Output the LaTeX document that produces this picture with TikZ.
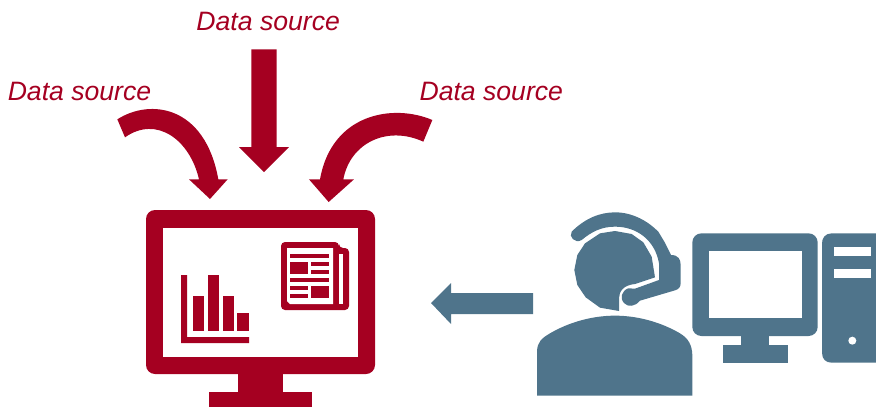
\documentclass[tikz,border=0pt]{standalone}
\usepackage{fontspec}
\setmainfont{Liberation Sans}
\definecolor{wine}{HTML}{A50021}
\definecolor{slate}{HTML}{4F748B}
\tikzset{
	sourcelabel/.style={text=wine,font=\fontsize{26.6}{30}\selectfont\itshape,inner sep=0pt},
	redshape/.style={fill=wine,draw=none,even odd rule},
	blueshape/.style={fill=slate,draw=none,even odd rule},
}

\begin{document}
\begin{tikzpicture}[x=1pt,y=-1pt]

	\useasboundingbox (0,0) rectangle (876,407);

	\node[sourcelabel] (leftsource) at (79.5,91.7) {Data source};
	\node[sourcelabel] (topsource) at (268.2,21.7) {Data source};
	\node[sourcelabel] (rightsource) at (491.3,91.7) {Data source};

	% arrows from the sources
	\begin{scope}[shift={(100,40)},scale=1/3]
		\fill[redshape] (52,238) .. controls (150,175) and (315,195) .. (355,418) -- (383,418) -- (330,477) -- (267,418) -- (297,418) .. controls (270,300) and (170,225) .. (75,292) -- cycle;
		\fill[redshape] (454,28) -- (530,28) -- (530,321) -- (567,321) -- (492,396) -- (417,321) -- (454,321) -- cycle;
		\fill[redshape] (997,240) .. controls (880,190) and (695,220) .. (660,418) -- (627,418) -- (686,486) -- (762,418) -- (730,418) .. controls (750,310) and (860,255) .. (970,305) -- cycle;
	\end{scope}

	% left screen
	\fill[redshape,rounded corners=9pt] (146,210) rectangle (375,374);
	\fill[white] (163,228) rectangle (358,357);
	\fill[redshape] (238,372) rectangle (283,392);
	\fill[redshape] (209,392) rectangle (312,407);

	% chart
	\fill[redshape] (181,275) -- (187,275) -- (187,337) -- (249,337) -- (249,343) -- (181,343) -- cycle;
	\fill[redshape] (193,296) rectangle (204,331);
	\fill[redshape] (208,275) rectangle (219,331);
	\fill[redshape] (223,296) rectangle (234,331);
	\fill[redshape] (237,313) rectangle (249,331);

	% newspaper
	\fill[redshape,rounded corners=4pt] (281,242) -- (339,242) -- (339,248) -- (349,248) -- (349,310) -- (281,310) -- cycle;
	\fill[white] (287,248) -- (333,248) -- (333,304) -- (290,304) -- (287,301) -- cycle;
	\fill[white] (339,254) rectangle (343,304);
	\fill[redshape] (290,254) rectangle (329,258);
	\fill[redshape] (290,262) rectangle (308,274);
	\fill[redshape] (311,262) rectangle (329,266);
	\fill[redshape] (311,270) rectangle (329,274);
	\fill[redshape] (290,278) rectangle (329,282);
	\fill[redshape] (290,286) rectangle (308,290);
	\fill[redshape] (290,294) rectangle (308,298);
	\fill[redshape] (311,286) rectangle (329,298);

	% arrow to the screen
	\fill[blueshape] (431,303) -- (451,283) -- (451,293) -- (533,293) -- (533,314) -- (451,314) -- (451,324) -- cycle;

	% operator
	\begin{scope}[shift={(520,200)},scale=1/3]
		\fill[blueshape] (51,587) -- (51,455) .. controls (52,425) and (65,415) .. (90,400) .. controls (150,365) and (220,347) .. (285,347) .. controls (350,347) and (420,365) .. (480,400) .. controls (505,415) and (516,435) .. (517,465) -- (517,587) -- cycle;
		\fill[blueshape] (297,333) -- (240,323) -- (197,292) -- (172,255) -- (163,210) -- (172,165) -- (195,130) -- (240,100) -- (285,93) -- (335,102) -- (370,127) -- (395,170) -- (405,232) -- (345,252) .. controls (310,255) and (297,275) .. (297,295) -- cycle;
		\fill[blueshape] (155,95) .. controls (195,55) and (240,37) .. (285,37) .. controls (340,37) and (385,65) .. (415,95) -- (433,125) -- (453,165) .. controls (475,165) and (482,178) .. (482,195) -- (482,250) .. controls (482,262) and (475,268) .. (465,271) -- (360,302) .. controls (345,320) and (325,322) .. (313,310) .. controls (298,295) and (305,272) .. (325,265) -- (345,266) -- (417,240) -- (417,190) .. controls (405,120) and (350,80) .. (285,80) .. controls (245,80) and (215,95) .. (185,120) .. controls (165,132) and (145,110) .. (155,95) -- cycle;

		% right screen
		\fill[blueshape,rounded corners=9pt] (517,100) rectangle (893,408);
		\fill[white] (566,154) rectangle (846,355);
		\fill[blueshape] (664,405) rectangle (748,435);
		\fill[blueshape] (609,435) rectangle (803,488);

		% tower
		\fill[blueshape] (1068,100) -- (935,100) .. controls (915,100) and (906,115) .. (906,130) -- (906,458) .. controls (906,478) and (918,488) .. (935,488) -- (1068,488) -- cycle;
		\fill[white] (943,141) rectangle (1053,168);
		\fill[white] (943,207) rectangle (1053,234);
		\fill[white] (997,422) circle (12);
	\end{scope}

\end{tikzpicture}
\end{document}
